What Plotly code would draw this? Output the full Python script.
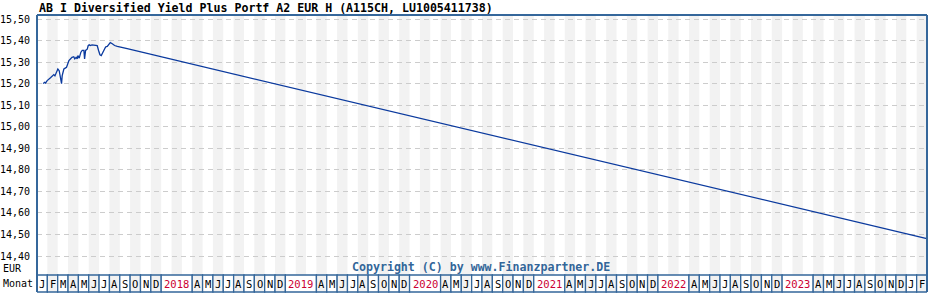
import calendar
import plotly.graph_objects as go

# ---- data ----
dates = [
    "2017-01-19", "2017-01-23", "2017-01-26", "2017-01-31", "2017-02-09", "2017-02-14",
    "2017-02-18", "2017-02-21", "2017-02-25", "2017-03-01", "2017-03-05", "2017-03-09",
    "2017-03-12", "2017-03-14", "2017-03-17", "2017-03-19", "2017-03-23", "2017-03-27",
    "2017-04-03", "2017-04-08", "2017-04-12", "2017-04-17", "2017-04-20", "2017-04-24",
    "2017-04-27", "2017-04-29", "2017-05-03", "2017-05-05", "2017-05-08", "2017-05-12",
    "2017-05-17", "2017-05-19", "2017-05-22", "2017-05-27", "2017-05-30", "2017-06-02",
    "2017-06-05", "2017-06-10", "2017-06-15", "2017-06-21", "2017-06-25", "2017-06-29",
    "2017-07-03", "2017-07-07", "2017-07-11", "2017-07-15", "2017-07-20", "2017-07-25",
    "2017-07-30", "2017-08-03", "2017-08-09", "2017-08-16", "2017-08-24", "2017-09-02",
    "2017-09-12", "2017-09-22", "2024-02-29",
]
prices = [
    15.200, 15.206, 15.203, 15.214, 15.227, 15.234,
    15.242, 15.236, 15.250, 15.268, 15.260, 15.225,
    15.200, 15.237, 15.250, 15.268, 15.272, 15.276,
    15.307, 15.315, 15.322, 15.325, 15.315, 15.322,
    15.315, 15.330, 15.318, 15.330, 15.346, 15.354,
    15.354, 15.315, 15.354, 15.360, 15.377, 15.380,
    15.377, 15.380, 15.380, 15.380, 15.377, 15.354,
    15.334, 15.330, 15.345, 15.360, 15.370, 15.373,
    15.380, 15.390, 15.385, 15.377, 15.373, 15.370,
    15.366, 15.362, 14.481,
]
y_ticks = [14.4, 14.5, 14.6, 14.7, 14.8, 14.9, 15.0, 15.1, 15.2, 15.3, 15.4, 15.5]
y_tick_labels = ["14,40", "14,50", "14,60", "14,70", "14,80", "14,90",
                 "15,00", "15,10", "15,20", "15,30", "15,40", "15,50"]
month_letters = ["J", "F", "M", "A", "M", "J", "J", "A", "S", "O", "N", "D"]
start_year = 2017
n_months = 86  # Jan 2017 .. Feb 2024
year_labels = [2018, 2019, 2020, 2021, 2022, 2023]

title = "AB I Diversified Yield Plus Portf A2 EUR H (A115CH, LU1005411738)"
copyright_text = "Copyright (C) by www.Finanzpartner.DE"

# ---- styling ----
FONT = "DejaVu Sans Mono"
BORDER = "#35679b"
STRIPE = "#f2f2f2"
LINE = "#0b3a9e"
YEAR_COL = "#cc0033"


def month_pos(d):
    y, m, dd = (int(p) for p in d.split("-"))
    ndays = calendar.monthrange(y, m)[1]
    return (y - start_year) * 12 + (m - 1) + (dd - 1) / ndays + 0.5 / ndays


x_vals = [month_pos(d) for d in dates]

W, H = 928, 300
L, R, T, B = 37, 1, 15, 25
plot_h = H - T - B
row_bottom = -17 / plot_h  # month row: y 275..292 px
row_mid = row_bottom / 2

fig = go.Figure()
fig.add_trace(go.Scatter(x=x_vals, y=prices, mode="lines",
                         line=dict(color=LINE, width=1.3), hoverinfo="skip"))

shapes = []
annotations = []

# vertical stripes for alternating months
for i in range(n_months):
    if i % 2 == 1:
        shapes.append(dict(type="rect", xref="x", yref="paper", x0=i, x1=i + 1,
                           y0=0, y1=1, fillcolor=STRIPE, line=dict(width=0),
                           layer="below"))

# month row cells
i = 0
while i < n_months:
    year = start_year + i // 12
    mon = i % 12
    if mon == 0 and year in year_labels:
        x0, x1, label, col = i, i + 3, str(year), YEAR_COL
        fill = "white"
        i += 3
    else:
        x0, x1, label, col = i, i + 1, month_letters[mon], "black"
        fill = STRIPE if i % 2 == 1 else "white"
        i += 1
    shapes.append(dict(type="rect", xref="x", yref="paper", x0=x0, x1=x1,
                       y0=row_bottom, y1=0, fillcolor=fill,
                       line=dict(color=BORDER, width=1.3), layer="above"))
    annotations.append(dict(x=(x0 + x1) / 2, y=row_mid, xref="x", yref="paper",
                            text=label, showarrow=False,
                            font=dict(family=FONT, size=10.5, color=col),
                            xanchor="center", yanchor="middle"))

# outer frame
shapes.append(dict(type="line", xref="paper", yref="paper", x0=0, x1=0,
                   y0=row_bottom, y1=1, line=dict(color=BORDER, width=2)))
shapes.append(dict(type="line", xref="paper", yref="paper", x0=0, x1=1,
                   y0=1, y1=1, line=dict(color=BORDER, width=2)))
shapes.append(dict(type="line", xref="paper", yref="paper", x0=1, x1=1,
                   y0=row_bottom, y1=1, line=dict(color=BORDER, width=2)))

# texts
annotations.append(dict(x=-L / (W - L - R), y=1 + 7.5 / plot_h, xref="paper", yref="paper",
                        text="<b>" + title + "</b>", showarrow=False,
                        xanchor="left", yanchor="middle", xshift=L,
                        font=dict(family=FONT, size=11.6, color="black")))
annotations.append(dict(x=0, y=-8 / plot_h + 15 / plot_h, xref="paper", yref="paper",
                        text="EUR", showarrow=False, xanchor="left", yanchor="middle",
                        xshift=-L + 1, font=dict(family=FONT, size=10, color="black")))
annotations.append(dict(x=0, y=row_mid, xref="paper", yref="paper",
                        text="Monat", showarrow=False, xanchor="left", yanchor="middle",
                        xshift=-L + 1, font=dict(family=FONT, size=10, color="black")))
annotations.append(dict(x=(481 - L) / (W - L - R), y=8 / plot_h, xref="paper", yref="paper",
                        text="<b>" + copyright_text + "</b>", showarrow=False,
                        xanchor="center", yanchor="middle",
                        font=dict(family=FONT, size=11.6, color="#336699")))

px_per_unit = 237 / 1.1
y_top = 15.5 + 4 / px_per_unit
y_bot = 14.4 - 19 / px_per_unit

fig.update_layout(
    width=W, height=H,
    margin=dict(l=L, r=R, t=T, b=B, pad=0),
    paper_bgcolor="white", plot_bgcolor="white",
    showlegend=False,
    shapes=shapes, annotations=annotations,
    xaxis=dict(range=[0, n_months], showgrid=False, zeroline=False,
               showticklabels=False, ticks="", showline=False, fixedrange=True),
    yaxis=dict(range=[y_bot, y_top], tickvals=y_ticks, ticktext=y_tick_labels,
               showgrid=True, gridcolor="#cccccc", griddash="5px,4px", gridwidth=1,
               zeroline=False, ticks="", ticklabelstandoff=6, showline=False,
               tickfont=dict(family=FONT, size=10, color="black"), fixedrange=True),
)

fig.write_html("out.html", config={"displayModeBar": False})
